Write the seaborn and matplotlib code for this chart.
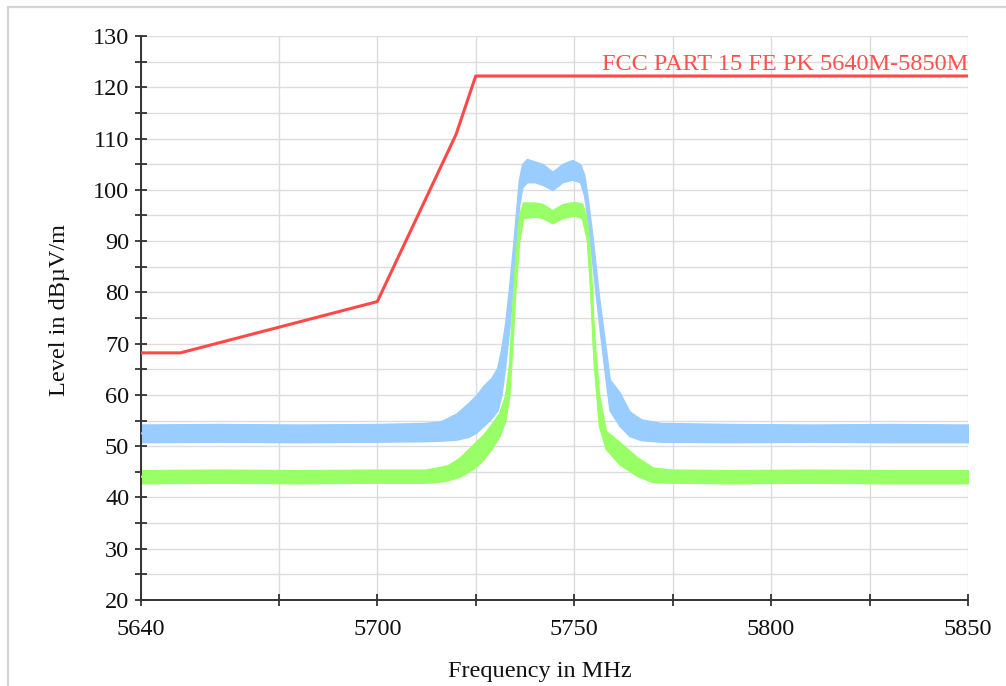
import numpy as np
import pandas as pd
import matplotlib
matplotlib.use("Agg")
import matplotlib.pyplot as plt
from matplotlib.lines import Line2D
from matplotlib.ticker import FixedLocator, MultipleLocator
import seaborn as sns

# ---------------- data ----------------
limit_freq = [5640, 5650, 5700, 5720, 5725, 5850]
limit_level = [68.2, 68.2, 78.2, 110.8, 122.2, 122.2]
limit_name = "FCC PART 15 FE PK 5640M-5850M"

peak_freq = [5640, 5660, 5680, 5700, 5712, 5716, 5720, 5723, 5725, 5727, 5729,
             5730.5, 5731.5, 5732.5, 5733.5, 5734.5, 5735.3, 5736, 5736.8, 5738,
             5740, 5742, 5744.5, 5747, 5749.5, 5751.5, 5752.5, 5753.3, 5754.6,
             5756.3, 5758, 5759, 5761.5, 5764, 5767, 5772, 5790, 5810, 5830, 5850]
peak_low = [50.8, 50.9, 50.8, 50.9, 51.0, 51.1, 51.3, 51.8, 52.6, 54.0, 55.5,
            57.0, 60.0, 66.0, 73.0, 82.0, 90.0, 97.0, 100.5, 101.5,
            101.5, 101.0, 100.0, 101.5, 102.0, 101.5, 99.0, 95.0, 86.0,
            74.0, 63.0, 57.0, 54.0, 52.0, 51.2, 50.9, 50.8, 50.9, 50.8, 50.8]
peak_high = [54.2, 54.3, 54.2, 54.3, 54.5, 54.8, 56.3, 58.3, 59.8, 61.8, 63.3,
             65.3, 69.0, 74.0, 81.0, 89.0, 96.0, 102.0, 105.0, 106.0,
             105.5, 105.0, 103.5, 105.0, 105.8, 105.0, 103.0, 99.0, 91.0,
             79.0, 69.0, 63.0, 60.5, 56.8, 55.2, 54.5, 54.3, 54.2, 54.3, 54.2]

avg_freq = [5640, 5660, 5680, 5700, 5712, 5715, 5718, 5721, 5723, 5725, 5727,
            5729, 5731, 5732.5, 5733.5, 5734.3, 5735.1, 5736, 5737, 5740, 5742,
            5744.5, 5747, 5750, 5752, 5753.3, 5754.2, 5755, 5756.3, 5758,
            5761.5, 5766, 5770, 5775, 5790, 5810, 5830, 5850]
avg_low = [42.8, 42.9, 42.8, 42.9, 42.9, 43.0, 43.4, 44.1, 45.0, 46.0, 47.5,
           49.5, 52.0, 55.0, 60.0, 70.0, 81.0, 90.0, 94.5, 94.8, 94.5,
           93.5, 94.5, 95.0, 94.5, 90.0, 79.0, 66.0, 54.0, 49.5,
           46.5, 44.2, 43.0, 42.9, 42.8, 42.9, 42.8, 42.8]
avg_high = [45.3, 45.4, 45.3, 45.4, 45.4, 45.8, 46.3, 47.8, 49.3, 50.8, 52.3,
            54.3, 56.5, 60.0, 66.0, 77.0, 87.0, 95.0, 97.5, 97.5, 97.2,
            96.0, 97.2, 97.6, 97.3, 94.0, 85.0, 72.0, 60.0, 53.0,
            50.8, 47.8, 45.8, 45.4, 45.3, 45.4, 45.3, 45.3]

x_ticks = [5640, 5675, 5700, 5725, 5750, 5775, 5800, 5825, 5850]
x_tick_labels = ["5640", "", "5700", "", "5750", "", "5800", "", "5850"]
y_ticks = list(range(20, 131, 10))

# ---------------- styling ----------------
sns.set_theme(style="white")
plt.rcParams["font.family"] = ["Liberation Serif", "DejaVu Serif"]
plt.rcParams["axes.unicode_minus"] = False

W, H = 1006, 686
fig = plt.figure(figsize=(W / 100, H / 100), dpi=100)
ax = fig.add_axes([141 / W, 1 - 600 / H, 827 / W, 564 / H])

def band_frame(freq, low, high):
    return pd.DataFrame({
        "freq": list(freq) + list(freq),
        "level": list(low) + list(high),
    })

peak_df = band_frame(peak_freq, peak_low, peak_high)
avg_df = band_frame(avg_freq, avg_low, avg_high)

blue = "#99CCFF"
green = "#99FF66"
red = "#FF4848"

sns.lineplot(data=peak_df, x="freq", y="level", estimator="mean",
             errorbar=("pi", 100), color=blue, linewidth=1.5,
             err_kws={"alpha": 1.0, "linewidth": 1.2, "edgecolor": blue},
             ax=ax, zorder=3)
sns.lineplot(data=avg_df, x="freq", y="level", estimator="mean",
             errorbar=("pi", 100), color=green, linewidth=1.5,
             err_kws={"alpha": 1.0, "linewidth": 1.2, "edgecolor": green},
             ax=ax, zorder=4)
sns.lineplot(x=limit_freq, y=limit_level, color=red, linewidth=2.2,
             ax=ax, zorder=5)

ax.text(5850, 123.4, limit_name, color="#FF5050", fontsize=17.5,
        ha="right", va="baseline", zorder=6)

ax.set_xlim(5640, 5850)
ax.set_ylim(20, 130)
ax.xaxis.set_major_locator(FixedLocator(x_ticks))
ax.set_xticklabels(x_tick_labels)
ax.yaxis.set_major_locator(FixedLocator(y_ticks))
ax.yaxis.set_minor_locator(MultipleLocator(5))

ax.grid(True, which="both", color="#DCDCDC", linewidth=1.0, zorder=0)
ax.set_axisbelow(True)

for s in ["top", "right"]:
    ax.spines[s].set_visible(False)
for s in ["left", "bottom"]:
    ax.spines[s].set_color("#333333")
    ax.spines[s].set_linewidth(1.4)

ax.tick_params(axis="both", which="both", direction="inout", color="#222222",
               width=1.2, labelsize=17.5, labelcolor="#111111",
               left=True, bottom=True)
ax.tick_params(axis="y", which="major", length=9, pad=4)
ax.tick_params(axis="y", which="minor", length=9)
ax.tick_params(axis="x", which="major", length=9, pad=9)

ax.set_xlabel("Frequency in MHz", fontsize=17.5, color="#111111")
ax.set_ylabel("Level in dBµV/m", fontsize=17.5, color="#111111")
ax.xaxis.set_label_coords((540 - 141) / 827, (600 - 672) / 564)
ax.yaxis.set_label_coords((60 - 141) / 827, (600 - 310) / 564)
ax.xaxis.label.set_va("center")
ax.yaxis.label.set_va("center")

# outer light frame (left and top edges visible in the reference)
fig.add_artist(Line2D([8 / W, 8 / W], [0, 1 - 7 / H], transform=fig.transFigure,
                      color="#D3D3D3", linewidth=1.6))
fig.add_artist(Line2D([8 / W, 1], [1 - 7 / H, 1 - 7 / H], transform=fig.transFigure,
                      color="#D3D3D3", linewidth=1.6))

fig.savefig("out.png", dpi=100)
